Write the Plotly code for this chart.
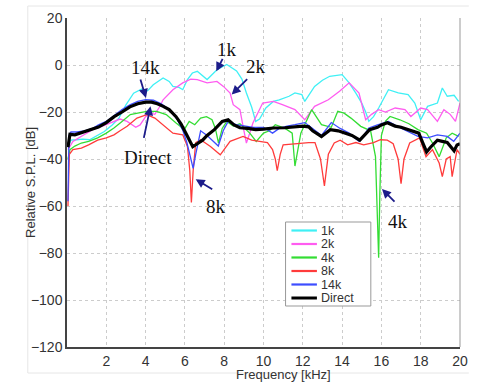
import plotly.graph_objects as go

# ---------------- data ----------------
series_names = ["1k", "2k", "4k", "8k", "14k", "Direct"]
series_colors = ["#3ff0f5", "#ff5cf0", "#33dd33", "#ff3b3b", "#3d4dff", "#000000"]
series_widths = [1.3, 1.3, 1.3, 1.3, 1.3, 3.2]

f_1k = [0.05,0.2,0.48,0.8,1.15,1.5,1.9,2.3,2.64,3.0,3.39,3.81,4.1,4.39,4.89,5.2,5.39,5.7,5.89,6.13,6.38,6.63,
        7.13,7.63,8.13,8.63,8.9,9.13,9.4,9.6,9.8,10.12,10.5,10.8,11.3,11.6,11.95,12.1,12.6,13.0,13.37,14.0,
        14.36,14.7,15.0,15.2,15.36,15.6,15.86,16.36,16.86,17.36,17.7,18.0,18.35,18.85,19.1,19.35,19.7,19.93]
v_1k = [-35,-32,-31.8,-31.5,-31.8,-30,-28.3,-25.5,-22.6,-17,-12,-10.2,-11,-8.4,-5.5,-7,-9.1,-9.5,-10.5,-6.2,
        -3.4,-2.7,-6.2,-2,0.2,-2.5,-6,-11.9,-18,-24,-23,-18.3,-15.5,-14.8,-13.3,-11.9,-12.6,-15.5,-9.1,-6.5,
        -4.8,-4.1,-7.6,-12,-16.2,-20,-24,-22,-18.3,-10.5,-11.9,-12.6,-16.2,-23.3,-17.6,-16.2,-9.8,-13.3,-12.9,-15.5]

f_2k = [0.05,0.3,0.8,1.31,1.8,2.3,2.7,3.06,3.5,3.72,4.0,4.22,4.47,4.7,4.89,5.39,5.89,6.3,6.63,7.13,7.63,7.96,
        8.3,8.46,8.8,8.96,9.13,9.3,9.46,9.96,10.5,10.96,11.6,12.1,12.6,13.3,13.87,14.36,14.86,15.2,15.5,15.86,
        16.2,16.7,17.2,17.5,18.0,18.35,18.85,19.18,19.5,19.77,20.0]
v_2k = [-36,-32.5,-30,-27.5,-26,-24.5,-23,-24,-26.5,-25.5,-22,-20.5,-21,-18,-14.8,-10.5,-7.6,-6,-6.2,-7.6,-7,
        -9.1,-11.9,-16.9,-19,-26.1,-33.2,-29,-24.7,-16.2,-15.5,-16.9,-19,-23.3,-17.6,-14.8,-11.2,-7.6,-11.9,
        -23.3,-21,-19,-20,-18.3,-19,-21.9,-18.3,-19,-24,-19,-21,-24,-16.2]

f_4k = [0.05,0.15,0.4,0.73,1.1,1.56,2.0,2.39,2.8,3.22,3.6,4.06,4.56,5.05,5.55,5.97,6.22,6.5,6.8,7.1,7.38,7.55,
        7.71,7.9,8.13,8.46,8.8,9.3,9.63,10.0,10.3,10.6,11.1,11.46,11.6,11.75,11.9,12.45,12.95,13.45,13.78,14.1,
        14.45,14.95,15.45,15.7,15.8,15.86,15.92,16.0,16.2,16.44,16.94,17.4,17.86,18.3,18.6,18.94,19.3,19.6,19.93]
v_4k = [-40,-36,-34.5,-33.2,-32.5,-31,-29,-26.8,-24,-21.1,-20.5,-19.7,-19.7,-21.1,-24.7,-27.5,-24,-25.4,-22.6,
        -22,-23.3,-27,-33.2,-27,-24,-26,-25,-29,-32.5,-29,-28,-25.4,-27,-29,-43,-35,-29,-19,-25.4,-26.5,-19.7,
        -20.5,-22.6,-26.1,-28,-39,-65,-82,-55,-30,-24,-21.9,-23.3,-25,-27.5,-29,-33.2,-39,-31,-29,-30.4]

f_8k = [0.05,0.12,0.3,0.73,1.1,1.56,2.0,2.39,2.7,3.06,3.56,4.06,4.47,4.89,5.39,5.89,6.13,6.25,6.33,6.42,6.55,
        6.8,7.3,7.8,8.3,8.96,9.4,9.8,10.2,10.46,10.6,10.7,10.85,11.0,11.5,11.95,12.3,12.62,12.9,13.1,13.3,13.6,
        13.9,14.28,14.7,15.1,15.6,15.95,16.3,16.6,16.85,17.0,17.15,17.44,17.94,18.27,18.6,18.94,19.1,19.3,19.5,
        19.6,19.85,20.0]
v_8k = [-60,-38,-36,-35.4,-34,-32,-31,-29.7,-28,-26.1,-22.6,-21.1,-22.6,-25.4,-29,-29.7,-34.7,-45,-58.5,-45,
        -33,-31.8,-34.7,-38.2,-32.5,-30.4,-32,-32.5,-33,-36,-40,-45,-38,-34,-33.5,-33.2,-33,-33,-40,-51.5,-38,
        -33.2,-32,-34,-33,-34,-33,-31.8,-32,-33.5,-40,-50.5,-40,-33.2,-31,-39,-36,-41.7,-47.5,-40,-39,-47.5,-36,-38]

f_14k = [0.05,0.1,0.2,0.5,0.9,1.3,1.6,2.0,2.4,2.8,3.2,3.6,4.0,4.4,4.8,5.2,5.6,5.9,6.1,6.3,6.42,6.55,6.8,7.13,
         7.4,7.7,7.95,8.2,8.6,9.0,9.5,10.0,10.46,10.8,11.2,11.6,12.1,12.5,12.95,13.45,13.9,14.36,14.86,15.1,
         15.36,15.8,16.36,16.9,17.36,17.86,18.35,18.85,19.35,19.68,20.0]
v_14k = [-58,-30,-28.5,-28.5,-28,-27,-25.5,-24,-21.5,-19,-17,-15.5,-14.7,-15,-16.5,-19,-23,-28,-33,-40,-44,
         -38,-28,-30,-32,-34.5,-28,-24,-25.4,-26,-26.5,-26.5,-29,-27,-26,-25.4,-24.5,-27,-30,-24.5,-27,-29,
         -32.5,-30,-26.8,-25.5,-24,-26.5,-28.3,-30.4,-31,-29.7,-30.4,-32.5,-29]

f_direct = [0.05,0.15,0.4,0.9,1.3,1.6,2.0,2.4,2.8,3.2,3.6,4.0,4.3,4.6,4.9,5.2,5.55,5.8,6.05,6.25,6.4,6.63,6.9,
            7.13,7.5,7.9,8.2,8.5,8.8,9.2,9.6,10.0,10.5,11.1,11.6,12.0,12.3,12.5,12.95,13.4,13.8,14.2,14.5,14.9,
            15.1,15.4,15.8,16.0,16.3,16.7,17.0,17.4,17.9,18.1,18.3,18.5,18.85,19.1,19.35,19.7,19.85,20.0]
v_direct = [-35,-29.5,-29.7,-28.3,-27.5,-26.4,-24.5,-22,-20,-17.8,-16.5,-15.8,-15.8,-16.5,-17.6,-19,-22,-25,-29,
            -32.5,-34.8,-33.5,-32,-30,-27.5,-24,-23.3,-25.5,-26.7,-27,-27.5,-27.3,-26.8,-26.7,-26.3,-26,-26.3,
            -28,-30.4,-27.5,-28,-29,-30,-32,-30,-27.5,-26.5,-25.5,-24.6,-26,-26.5,-27.5,-29,-33,-37,-35,-32,
            -32.5,-33,-36.5,-34,-33.5]

series_f = [f_1k, f_2k, f_4k, f_8k, f_14k, f_direct]
series_v = [v_1k, v_2k, v_4k, v_8k, v_14k, v_direct]

x_ticks = [2, 4, 6, 8, 10, 12, 14, 16, 18, 20]
y_ticks = [20, 0, -20, -40, -60, -80, -100, -120]

# annotation labels: (text, tip_x, tip_y, tail_dx, tail_dy, label_x, label_y)
labels = [
    ("1k", 7.60, -2.7, 7, -14, 8.13, 6.6),
    ("2k", 8.38, -12.6, 17, -17, 9.63, -0.5),
    ("14k", 4.02, -14.0, -6, -20, 3.98, -1.2),
    ("Direct", 4.25, -17.6, -7, 33, 4.14, -39.5),
    ("8k", 6.55, -48.6, 18, 11, 7.58, -60.3),
    ("4k", 16.03, -52.8, 14, 14, 16.86, -66.7),
]

# ---------------- figure ----------------
W, H = 477, 383
PL, PR, PT, PB = 67, 468, 18, 347     # plot area in page pixels
def px_x(p):
    return (p - PL) / (PR - PL)
def px_y(p):
    return (PB - p) / (PB - PT)

fig = go.Figure()
for name, col, w, fx, vy in zip(series_names, series_colors, series_widths, series_f, series_v):
    fig.add_trace(go.Scatter(x=fx, y=vy, mode="lines", name=name,
                             line=dict(color=col, width=w), showlegend=False))

arrow_col = "#1c1c8a"
for txt, tx, ty, dx, dy, lx, ly in labels:
    fig.add_annotation(x=tx, y=ty, xref="x", yref="y", ax=dx, ay=dy, text="",
                       showarrow=True, arrowhead=2, arrowsize=1, arrowwidth=1.8,
                       arrowcolor=arrow_col)
    fig.add_annotation(x=lx, y=ly, xref="x", yref="y", text=txt, showarrow=False,
                       font=dict(family="Liberation Serif", size=19, color="#111111"))

# axis titles
fig.add_annotation(x=px_x(20), y=0.5, xref="paper", yref="paper", text="Relative S.P.L. [dB]",
                   textangle=-90, showarrow=False,
                   font=dict(family="Liberation Sans", size=13, color="#333333"))
fig.add_annotation(x=px_x(288), y=px_y(383), xref="paper", yref="paper", text="Frequency [kHz]",
                   showarrow=False, yanchor="bottom", borderpad=0,
                   font=dict(family="Liberation Sans", size=13, color="#333333"))

# faint outer frame and right border
frame_col = "#e6e6e6"
fig.add_shape(type="line", xref="paper", yref="paper", x0=px_x(27), x1=px_x(27), y0=px_y(373), y1=px_y(6),
              line=dict(color=frame_col, width=1))
fig.add_shape(type="line", xref="paper", yref="paper", x0=px_x(27), x1=px_x(477), y0=px_y(6), y1=px_y(6),
              line=dict(color=frame_col, width=1))
fig.add_shape(type="line", xref="paper", yref="paper", x0=px_x(27), x1=px_x(477), y0=px_y(373), y1=px_y(373),
              line=dict(color=frame_col, width=1))
fig.add_shape(type="line", xref="paper", yref="paper", x0=1, x1=1, y0=0, y1=1,
              line=dict(color="#999999", width=1))

# legend box drawn in paper coordinates (compact like the original)
LB_L, LB_R, LB_T, LB_B = 290, 377, 222, 306
fig.add_shape(type="rect", xref="paper", yref="paper", x0=px_x(LB_L), x1=px_x(LB_R),
              y0=px_y(LB_B), y1=px_y(LB_T), line=dict(color="#999999", width=1),
              fillcolor="white", layer="above")
row_y = [230.5, 244.0, 257.5, 271.0, 284.5, 298.0]
for name, col, w, ry in zip(series_names, series_colors, series_widths, row_y):
    fig.add_shape(type="line", xref="paper", yref="paper", x0=px_x(296), x1=px_x(322),
                  y0=px_y(ry), y1=px_y(ry), line=dict(color=col, width=2.2 if w < 2 else 3),
                  layer="above")
    fig.add_annotation(x=px_x(325), y=px_y(ry), xref="paper", yref="paper", text=name,
                       showarrow=False, xanchor="left", yanchor="middle", borderpad=0,
                       font=dict(family="Liberation Sans", size=12.5, color="#333333"))

fig.update_layout(
    width=W, height=H,
    margin=dict(l=PL, r=W - PR, t=PT, b=H - PB),
    paper_bgcolor="white", plot_bgcolor="white",
    font=dict(family="Liberation Sans", size=14, color="#333333"),
    showlegend=False,
)
fig.update_xaxes(range=[0, 20], tickvals=x_ticks, showgrid=True, gridcolor="#cccccc",
                 griddash="dot", gridwidth=1, showline=True, linecolor="#444444",
                 linewidth=1.5, zeroline=False, ticks="", tickfont=dict(size=14))
fig.update_yaxes(range=[-120, 20], tickvals=y_ticks, showgrid=True, gridcolor="#cccccc",
                 griddash="dot", gridwidth=1, showline=True, linecolor="#444444",
                 linewidth=1.5, zeroline=False, ticks="", tickfont=dict(size=14))

# remove the browser's default page margin so the figure fills the window exactly
page_fix = "document.body.style.margin='0';document.body.style.overflow='hidden';"
fig.write_html("out.html", post_script=page_fix, config={"displayModeBar": False})
